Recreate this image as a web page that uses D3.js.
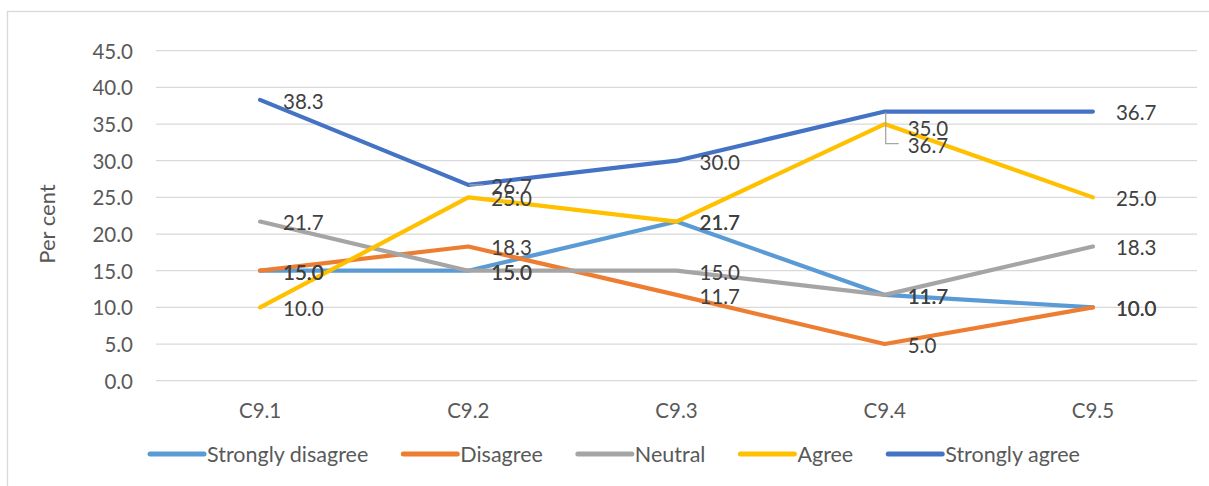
<!DOCTYPE html>
<html lang="en">
  <head>
    <meta charset="utf-8">
    <script src="https://cdn.jsdelivr.net/npm/d3@7"></script>
    <style>
      body { margin: 0; background: #fff; }
      text { font-family: Lato, "Open Sans", sans-serif; }
      .grid line { stroke: #d9d9d9; stroke-width: 1.3; }
      .tick text { fill: #595959; font-size: 20.5px; }
      .lbl { fill: #404040; font-size: 20.5px; }
    </style>
    <title></title>
  </head>
  <body>
    <script>
      var width = 1209, height = 486;

      var categories = ["C9.1", "C9.2", "C9.3", "C9.4", "C9.5"];
      var seriesNames = ["Strongly disagree", "Disagree", "Neutral", "Agree", "Strongly agree"];
      var colors = ["#5b9bd5", "#ed7d31", "#a5a5a5", "#ffc000", "#4472c4"];
      var stronglyDisagree = [15.0, 15.0, 21.7, 11.7, 10.0];
      var disagree = [15.0, 18.3, 11.7, 5.0, 10.0];
      var neutral = [21.7, 15.0, 15.0, 11.7, 18.3];
      var agree = [10.0, 25.0, 21.7, 35.0, 25.0];
      var stronglyAgree = [38.3, 26.7, 30.0, 36.7, 36.7];
      var yTicks = [0, 5, 10, 15, 20, 25, 30, 35, 40, 45];

      var values = [stronglyDisagree, disagree, neutral, agree, stronglyAgree];

      // labels Excel moved off the default spot (series index, point index, shift down, leader)
      var labelMoves = [
        {s: 4, i: 1, dy: 0, leader: "h"},
        {s: 4, i: 3, dy: 33, leader: "l"},
        {s: 3, i: 3, dy: 3}
      ];

      var plot = {left: 156, right: 1197, top: 50.7, bottom: 380.7};

      var x = d3.scaleBand().domain(categories).range([plot.left, plot.right]);
      var y = d3.scaleLinear().domain([0, 45]).range([plot.bottom, plot.top]);
      var cx = function(c) { return x(c) + x.bandwidth() / 2; };

      var svg = d3.select("body").append("svg")
        .attr("width", width).attr("height", height);

      // chart frame
      svg.append("rect")
        .attr("x", 7.5).attr("y", 11.5)
        .attr("width", width + 20).attr("height", height + 20)
        .attr("fill", "none").attr("stroke", "#d9d9d9").attr("stroke-width", 1.3);

      svg.append("g").attr("class", "grid")
        .selectAll("line").data(yTicks).enter().append("line")
          .attr("x1", plot.left).attr("x2", plot.right)
          .attr("y1", function(d) { return y(d); })
          .attr("y2", function(d) { return y(d); });

      var yAxis = svg.append("g")
        .attr("transform", "translate(" + plot.left + ",0)")
        .call(d3.axisLeft(y).tickValues(yTicks).tickFormat(d3.format(".1f")).tickSize(0).tickPadding(23));
      yAxis.select(".domain").remove();
      yAxis.selectAll(".tick text").attr("dy", "0.36em");

      var xAxis = svg.append("g")
        .attr("transform", "translate(0," + plot.bottom + ")")
        .call(d3.axisBottom(x).tickSize(0).tickPadding(23));
      xAxis.select(".domain").remove();

      svg.append("text")
        .attr("transform", "translate(55,224) rotate(-90)")
        .attr("text-anchor", "middle")
        .attr("fill", "#595959").attr("font-size", "22px")
        .text("Per cent");

      var line = d3.line()
        .x(function(d, i) { return cx(categories[i]); })
        .y(function(d) { return y(d); });

      svg.append("g").selectAll("path").data(values).enter().append("path")
        .attr("d", line)
        .attr("fill", "none")
        .attr("stroke", function(d, i) { return colors[i]; })
        .attr("stroke-width", 4.2)
        .attr("stroke-linecap", "round")
        .attr("stroke-linejoin", "round");

      // data labels
      var labels = [];
      values.forEach(function(vals, s) {
        vals.forEach(function(v, i) {
          var m = labelMoves.find(function(d) { return d.s === s && d.i === i; }) || {dy: 0};
          labels.push({v: v, px: cx(categories[i]), py: y(v), dy: m.dy, leader: m.leader});
        });
      });

      var leaders = svg.append("g").attr("fill", "none").attr("stroke", "#a6a6a6").attr("stroke-width", 1.3);
      labels.forEach(function(d) {
        if (d.leader === "h") {
          leaders.append("path").attr("d", "M" + (d.px + 1) + "," + d.py + "H" + (d.px + 15));
        } else if (d.leader === "l") {
          leaders.append("path").attr("d", "M" + (d.px + 1) + "," + (d.py + 1) + "V" + (d.py + d.dy - 1) + "H" + (d.px + 14));
        }
      });

      svg.append("g").selectAll("text").data(labels).enter().append("text")
        .attr("class", "lbl")
        .attr("x", function(d) { return d.px + 23; })
        .attr("y", function(d) { return d.py + d.dy + 1.5; })
        .attr("dy", "0.36em")
        .text(function(d) { return d3.format(".1f")(d.v); });

      // legend
      var legend = svg.append("g").attr("transform", "translate(0,454)");
      var items = legend.selectAll("g").data(seriesNames).enter().append("g");
      items.append("line")
        .attr("x1", 0).attr("x2", 54)
        .attr("stroke", function(d, i) { return colors[i]; })
        .attr("stroke-width", 5).attr("stroke-linecap", "round");
      items.append("text")
        .attr("x", 57).attr("dy", "0.36em")
        .attr("fill", "#595959").attr("font-size", "21.5px")
        .text(function(d) { return d; });

      var widths = [];
      items.each(function() { widths.push(57 + d3.select(this).select("text").node().getComputedTextLength()); });
      var total = d3.sum(widths) + 35 * (widths.length - 1);
      var pos = 615 - total / 2;
      items.attr("transform", function(d, i) {
        var t = "translate(" + pos + ",0)";
        pos += widths[i] + 35;
        return t;
      });
    </script>
  </body>
</html>
